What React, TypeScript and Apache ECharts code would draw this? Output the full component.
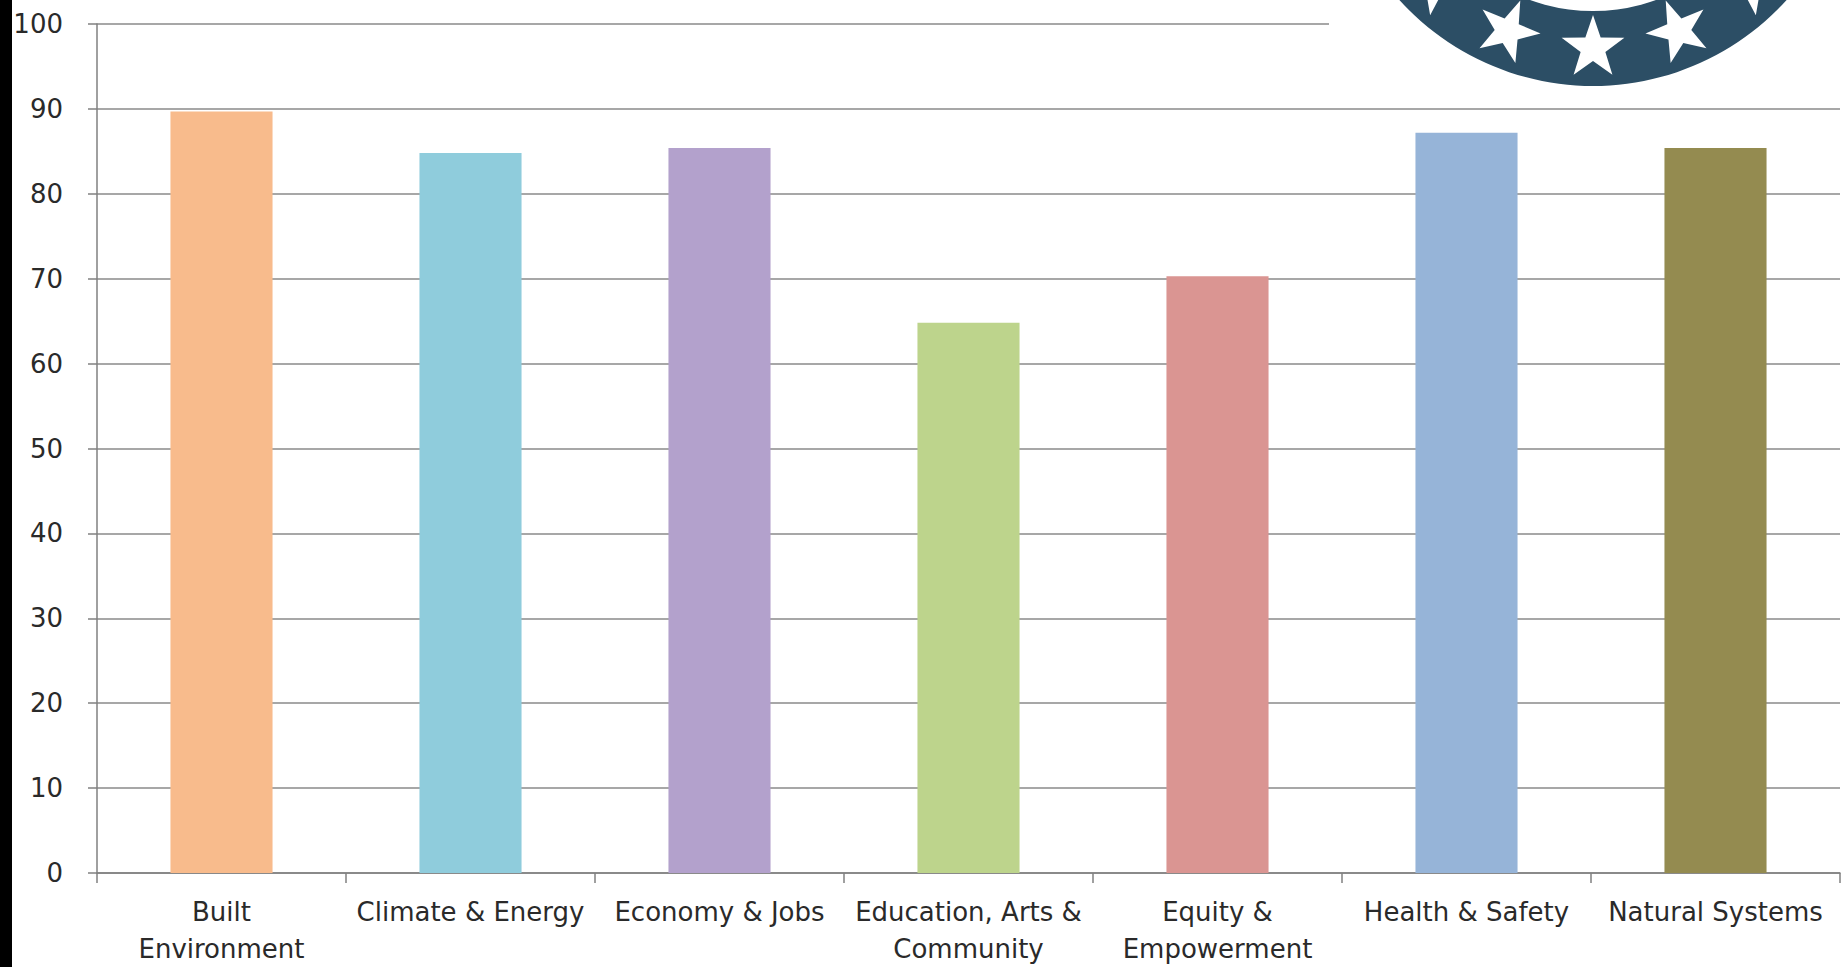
import React, { useEffect, useRef } from "react";
import * as echarts from "echarts";

const categories: string[] = [
  "Built\nEnvironment",
  "Climate & Energy",
  "Economy & Jobs",
  "Education, Arts &\nCommunity",
  "Equity &\nEmpowerment",
  "Health & Safety",
  "Natural Systems",
];
const scores: number[] = [89.7, 84.8, 85.4, 64.8, 70.3, 87.2, 85.4];
const barColors: string[] = ["#F8BB8C", "#8FCCDC", "#B3A1CC", "#BDD48C", "#DA9592", "#96B4D8", "#948B50"];
const yMin = 0;
const yMax = 100;
const yStep = 10;
const starAngles: number[] = [-45, -22.5, 0, 22.5, 45];

function starPoints(cx: number, cy: number, R: number, r: number, rotDeg: number): number[][] {
  const pts: number[][] = [];
  for (let k = 0; k < 10; k++) {
    const a = ((rotDeg + k * 36) * Math.PI) / 180;
    const rad = k % 2 === 0 ? R : r;
    pts.push([cx + rad * Math.sin(a), cy - rad * Math.cos(a)]);
  }
  return pts;
}

export default function App() {
  const ref = useRef<HTMLDivElement>(null);
  useEffect(() => {
    if (!ref.current) return;
    const chart = echarts.init(ref.current, undefined, { renderer: "svg" });
    const font = "DejaVu Sans";
    const logoCx = 1593;
    const logoCy = -175;
    const stars = starAngles.map((phi) => {
      const p = (phi * Math.PI) / 180;
      const sx = logoCx + 223 * Math.sin(p);
      const sy = logoCy + 223 * Math.cos(p);
      return {
        type: "polygon",
        shape: { points: starPoints(sx, sy, 33, 13, -phi) },
        style: { fill: "#ffffff" },
        z: 103,
      };
    });
    chart.setOption({
      animation: false,
      backgroundColor: "#ffffff",
      grid: { left: 97, right: 7, top: 24, bottom: 94, containLabel: false },
      xAxis: {
        type: "category",
        data: categories,
        boundaryGap: true,
        axisLine: { show: true, lineStyle: { color: "#808080", width: 1.5 } },
        axisTick: { show: true, alignWithLabel: false, length: 10, lineStyle: { color: "#808080", width: 1.5 } },
        axisLabel: {
          interval: 0,
          margin: 20,
          color: "#2a2a2a",
          fontFamily: font,
          fontSize: 26,
          lineHeight: 37,
        },
      },
      yAxis: {
        type: "value",
        min: yMin,
        max: yMax,
        interval: yStep,
        axisLine: { show: true, lineStyle: { color: "#808080", width: 1.5 } },
        axisTick: { show: true, length: 9, lineStyle: { color: "#808080", width: 1.5 } },
        splitLine: { show: true, lineStyle: { color: "#8a8a8a", width: 1.5 } },
        axisLabel: {
          margin: 34,
          color: "#2a2a2a",
          fontFamily: font,
          fontSize: 26,
        },
      },
      series: [
        {
          type: "bar",
          barCategoryGap: "59%",
          data: scores.map((v, i) => ({ value: v, itemStyle: { color: barColors[i] } })),
        },
      ],
      graphic: [
        { type: "rect", shape: { x: 0, y: 0, width: 12, height: 967 }, style: { fill: "#000000" }, z: 100 },
        { type: "rect", shape: { x: 1329, y: 0, width: 518, height: 100 }, style: { fill: "#ffffff" }, z: 100 },
        { type: "circle", shape: { cx: logoCx, cy: logoCy, r: 261 }, style: { fill: "#2c4e65" }, z: 101 },
        { type: "circle", shape: { cx: logoCx, cy: logoCy, r: 186 }, style: { fill: "#ffffff" }, z: 102 },
        ...stars,
      ],
    });
    return () => chart.dispose();
  }, []);
  return <div ref={ref} style={{ position: "absolute", left: 0, top: 0, width: 1847, height: 967 }} />;
}
